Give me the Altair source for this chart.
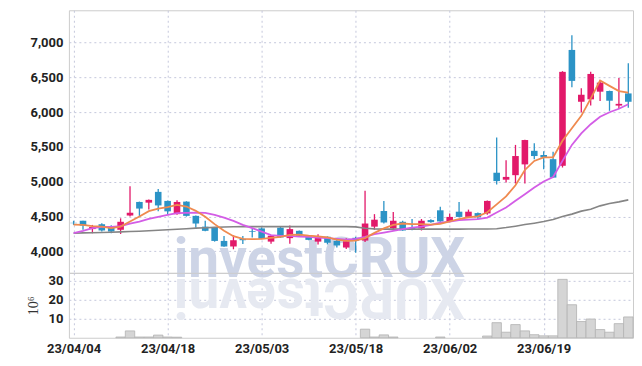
import altair as alt
import pandas as pd

dates = ["23/04/04", "23/04/05", "23/04/06", "23/04/07", "23/04/10", "23/04/11", "23/04/12", "23/04/13", "23/04/14", "23/04/17",
         "23/04/18", "23/04/19", "23/04/20", "23/04/21", "23/04/24", "23/04/25", "23/04/26", "23/04/27", "23/04/28", "23/05/02",
         "23/05/03", "23/05/04", "23/05/08", "23/05/09", "23/05/10", "23/05/11", "23/05/12", "23/05/15", "23/05/16", "23/05/17",
         "23/05/18", "23/05/19", "23/05/22", "23/05/23", "23/05/24", "23/05/25", "23/05/26", "23/05/30", "23/05/31", "23/06/01",
         "23/06/02", "23/06/05", "23/06/07", "23/06/08", "23/06/09", "23/06/12", "23/06/13", "23/06/14", "23/06/15", "23/06/16",
         "23/06/19", "23/06/20", "23/06/21", "23/06/22", "23/06/23", "23/06/26", "23/06/27", "23/06/28", "23/06/29", "23/06/30"]

opens = [4410, 4440, 4320, 4390, 4350, 4310, 4515, 4710, 4700, 4855,
         4725, 4535, 4715, 4510, 4355, 4340, 4150, 4070, 4180, 4290,
         4330, 4140, 4340, 4190, 4295, 4210, 4140, 4210, 4150, 4055,
         4195, 4155, 4355, 4580, 4330, 4425, 4340, 4330, 4450, 4590,
         4425, 4570, 4495, 4550, 4545, 5130, 5030, 5095, 5250, 5445,
         5385, 5325, 5230, 6895, 6150, 6185, 6295, 6305, 6095, 6270]
highs = [4440, 4440, 4380, 4405, 4375, 4475, 4935, 4715, 4745, 4895,
         4730, 4735, 4720, 4515, 4440, 4345, 4220, 4230, 4220, 4320,
         4345, 4230, 4350, 4370, 4300, 4220, 4245, 4215, 4190, 4190,
         4210, 4870, 4535, 4725, 4565, 4440, 4465, 4465, 4460, 4640,
         4545, 4710, 4600, 4560, 4730, 5635, 5310, 5530, 5605, 5555,
         5440, 5430, 6590, 7105, 6345, 6580, 6460, 6310, 6490, 6705]
lows = [4380, 4310, 4260, 4285, 4262, 4250, 4500, 4500, 4600, 4575,
        4535, 4525, 4500, 4340, 4290, 4140, 4065, 4030, 4105, 4200,
        4175, 4110, 4195, 4110, 4220, 4160, 4100, 4100, 4055, 4035,
        3980, 4135, 4310, 4400, 4320, 4295, 4305, 4300, 4410, 4425,
        4420, 4490, 4490, 4465, 4525, 4960, 4990, 4975, 4975, 5325,
        5180, 5055, 5205, 6360, 5995, 6095, 6160, 6020, 6045, 6065]
closes = [4405, 4370, 4350, 4300, 4285, 4425, 4555, 4615, 4740, 4660,
          4575, 4710, 4510, 4400, 4295, 4150, 4070, 4160, 4160, 4280,
          4180, 4225, 4200, 4320, 4225, 4165, 4215, 4125, 4085, 4145,
          4155, 4400, 4455, 4415, 4440, 4300, 4310, 4440, 4420, 4430,
          4495, 4495, 4570, 4490, 4725, 5010, 5070, 5370, 5600, 5370,
          5350, 5060, 6580, 6450, 6250, 6550, 6425, 6165, 6120, 6150]

ma5 = [4385, 4381, 4362, 4356, 4333, 4356, 4428, 4500, 4578, 4615,
       4635, 4668, 4644, 4582, 4496, 4391, 4295, 4218, 4180, 4175,
       4180, 4195, 4208, 4237, 4240, 4225, 4215, 4200, 4167, 4150,
       4155, 4190, 4265, 4330, 4380, 4400, 4392, 4390, 4385, 4395,
       4430, 4465, 4490, 4502, 4562, 4675, 4790, 4950, 5170, 5300,
       5350, 5350, 5590, 5770, 5948, 6195, 6455, 6378, 6304, 6282]
ma20 = [4261, 4295, 4333, 4352, 4352, 4362, 4400, 4428, 4467, 4496,
        4524, 4549, 4553, 4558, 4553, 4524, 4486, 4438, 4381, 4333,
        4284, 4233, 4223, 4223, 4213, 4208, 4198, 4190, 4180, 4170,
        4180, 4208, 4247, 4270, 4295, 4319, 4342, 4356, 4381, 4414,
        4428, 4448, 4457, 4463, 4486, 4558, 4630, 4726, 4822, 4917,
        5005, 5068, 5301, 5530, 5695, 5828, 5935, 6000, 6050, 6115]
ma60 = [4261, 4265, 4268, 4271, 4275, 4280, 4285, 4290, 4296, 4303,
        4310, 4318, 4326, 4334, 4340, 4345, 4350, 4353, 4355, 4356,
        4356, 4356, 4356, 4356, 4356, 4356, 4356, 4356, 4355, 4355,
        4352, 4332, 4323, 4320, 4320, 4320, 4320, 4320, 4320, 4320,
        4320, 4320, 4321, 4321, 4322, 4326, 4342, 4362, 4385, 4405,
        4428, 4457, 4500, 4535, 4578, 4606, 4654, 4687, 4711, 4740]

volume = [0, 0, 0, 0, 0, 0.4, 3.6, 0.4, 0.4, 1.4,
          0.4, 0.3, 0, 0, 0, 0, 0, 0, 0, 0,
          0, 0, 0, 0, 0, 0, 0, 0, 0, 0,
          0, 4.5, 0.4, 1.5, 0.4, 0, 0, 0, 0, 0.4,
          0, 0, 0, 0, 0.9, 7.9, 2.9, 6.9, 3.6, 1.6,
          1.0, 1.0, 30.6, 17.3, 8.5, 9.8, 4.3, 2.9, 7.4, 10.9]

tick_idx = [0, 10, 20, 30, 40, 50]
price_ticks = [4000, 4500, 5000, 5500, 6000, 6500, 7000]
vol_ticks = [10, 20, 30]

RED = "#e2196a"
BLUE = "#2b93c6"

n = len(dates)
df = pd.DataFrame({
    "i": list(range(n)), "date": dates, "open": opens, "high": highs,
    "low": lows, "close": closes, "ma5": ma5, "ma20": ma20, "ma60": ma60,
    "vol": volume,
})
df["dir"] = ["up" if c >= o else "down" for o, c in zip(opens, closes)]
df["b0"] = df["i"] - 0.35
df["b1"] = df["i"] + 0.35
df["v0"] = df["i"] - 0.5
df["v1"] = df["i"] + 0.5
vdf = df[df["vol"] > 0]

label_expr = "[" + ",".join("'" + d + "'" for d in dates) + "][datum.value]"

W = 565
xscale = alt.Scale(domain=[-0.5, n - 0.5], nice=False, zero=False)
pscale = alt.Scale(domain=[3691, 7465], nice=False, zero=False)
vscale = alt.Scale(domain=[0, 34], nice=False)
cscale = alt.Scale(domain=["up", "down"], range=[RED, BLUE])

FONT = "Roboto"
FS = 13

x_hidden = alt.Axis(values=tick_idx, labels=False, ticks=False, domain=False,
                    title=None, grid=True)
x_shown = alt.Axis(values=tick_idx, labelExpr=label_expr, ticks=False, domain=False,
                   title=None, grid=True, labelFont=FONT, labelFontSize=FS,
                   labelFontWeight="bold", labelColor="#222222", labelPadding=5)

base = alt.Chart(df)

wm = alt.Chart(pd.DataFrame({"t": ["investCRUX"]})).mark_text(
    font="Roboto", fontSize=55, fontWeight="bold", color="#cdd4e6",
    align="center", baseline="alphabetic"
).encode(x=alt.value(251), y=alt.value(267), text="t:N")

wick = base.mark_rule(strokeWidth=1.3).encode(
    x=alt.X("i:Q", scale=xscale, axis=x_hidden),
    y=alt.Y("low:Q", scale=pscale,
            axis=alt.Axis(values=price_ticks, format=",.0f", ticks=False, domain=False,
                          title=None, grid=True, labelFont=FONT, labelFontSize=FS,
                          labelFontWeight="bold", labelColor="#222222", labelPadding=6)),
    y2="high:Q",
    color=alt.Color("dir:N", scale=cscale, legend=None),
)
body = base.mark_bar().encode(
    x="b0:Q", x2="b1:Q", y="open:Q", y2="close:Q",
    color=alt.Color("dir:N", scale=cscale, legend=None),
)
l60 = base.mark_line(color="#858585", strokeWidth=1.6).encode(x="i:Q", y="ma60:Q")
l20 = base.mark_line(color="#d35de6", strokeWidth=1.8).encode(x="i:Q", y="ma20:Q")
l5 = base.mark_line(color="#ef8a4f", strokeWidth=1.8).encode(x="i:Q", y="ma5:Q")

price = alt.layer(wm, wick, body, l60, l20, l5).properties(width=W, height=263)

wm2 = alt.Chart(pd.DataFrame({"t": ["XURCtsevni"]})).mark_text(
    font="Roboto", fontSize=55, fontWeight="bold", color="#e6e9f1",
    align="center", baseline="alphabetic", angle=180
).encode(x=alt.value(251), y=alt.value(6), text="t:N")

vbars = alt.Chart(vdf).mark_bar(fill="#d5d5d5", stroke="#b3b3b3", strokeWidth=0.8).encode(
    x=alt.X("v0:Q", scale=xscale, axis=x_shown),
    x2="v1:Q",
    y=alt.Y("vol:Q", scale=vscale,
            axis=alt.Axis(values=vol_ticks, ticks=False, domain=False, title="10⁶",
                          titleFont="Liberation Serif", titleFontSize=14,
                          titleFontWeight="normal", titleColor="#333333", titlePadding=8,
                          grid=True, labelFont=FONT, labelFontSize=FS,
                          labelFontWeight="bold", labelColor="#222222", labelPadding=6)),
    y2=alt.datum(0),
)
vol = alt.layer(wm2, vbars).properties(width=W, height=65)

chart = alt.vconcat(price, vol, spacing=0, bounds="flush").properties(
    padding={"left": 17, "top": 1, "right": 0, "bottom": 0}
).configure_view(stroke="#cccccc", strokeWidth=1).configure_axis(
    gridColor="#c5c8dc", gridDash=[2, 3], gridWidth=1
)

chart.save("out.html", embed_options={"renderer": "svg", "actions": False})
